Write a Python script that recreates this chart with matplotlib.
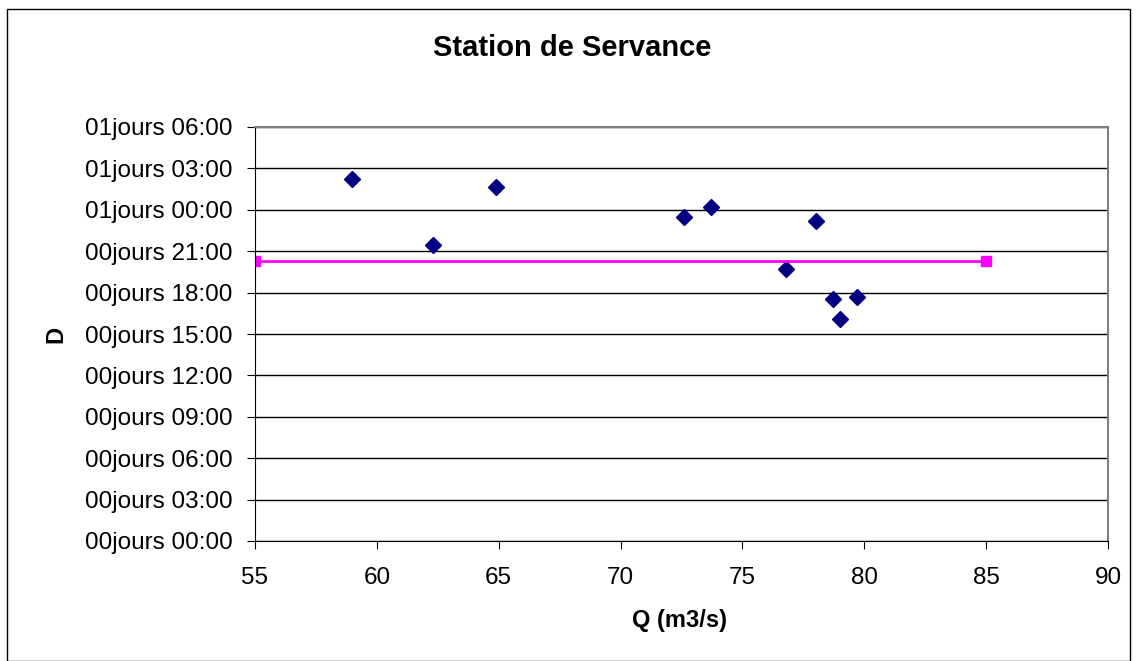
import matplotlib.pyplot as plt
from matplotlib.patches import Rectangle

plt.rcParams['font.family'] = ['Liberation Sans', 'DejaVu Sans']

# debits (m3/s) et durees (heures)
q = [59.0, 62.3, 64.9, 72.6, 73.7, 76.8, 78.0, 78.7, 79.0, 79.7]
d = [26.2, 21.45, 25.65, 23.5, 24.2, 19.7, 23.2, 17.55, 16.1, 17.7]

# moyenne
q_moy = [55, 85]
d_moy = [20.3, 20.3]

y_ticks = list(range(0, 31, 3))
y_labels = ['%02djours %02d:00' % (h // 24, h % 24) for h in y_ticks]

W, H = 1138, 661
fig = plt.figure(figsize=(W / 100, H / 100), dpi=100)
ax = fig.add_axes([255 / W, 120 / H, 853 / W, 414 / H])

ax.plot(q, d, linestyle='none', marker='D', markersize=8, color='#000080')
ax.plot(q_moy, d_moy, color='#FF00FF', linewidth=2, marker='s', markersize=7)

ax.set_xlim(55, 90)
ax.set_ylim(0, 30)
ax.set_yticks(y_ticks)
ax.set_yticklabels(y_labels)
ax.set_xticks(range(55, 91, 5))
ax.tick_params(labelsize=17.5, direction='out', length=6, color='black')
ax.tick_params(axis='y', pad=10)
ax.tick_params(axis='x', pad=13)
ax.yaxis.grid(True, color='black', linewidth=1)
ax.set_axisbelow(True)

for side in ['top', 'right']:
    ax.spines[side].set_color('#808080')
    ax.spines[side].set_linewidth(1.5)
for side in ['left', 'bottom']:
    ax.spines[side].set_color('black')

fig.text(680 / W, 1 - 627 / H, 'Q (m3/s)', fontsize=17, fontweight='bold',
         ha='center', va='baseline')
fig.text(56 / W, 1 - 334 / H, 'D', fontsize=17, fontweight='bold',
         ha='center', va='center', rotation=90)
fig.text(572 / W, 1 - 56 / H, 'Station de Servance', fontsize=21,
         fontweight='bold', ha='center', va='baseline')

fig.patches.append(Rectangle((7 / W, 0.5 / H), 1123 / W, 652 / H,
                             transform=fig.transFigure, fill=False,
                             edgecolor='black', linewidth=1))

fig.savefig('out.png', dpi=100)
